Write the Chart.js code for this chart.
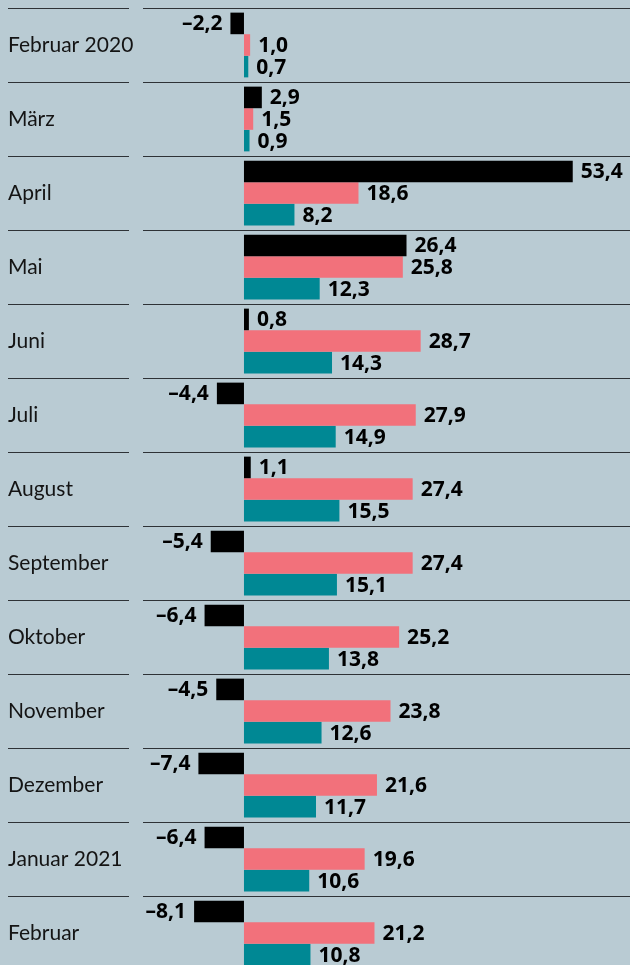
<!DOCTYPE html>
<html>
<head>
<meta charset="utf-8">
<script src="https://cdn.jsdelivr.net/npm/chart.js@4/dist/chart.umd.min.js"></script>
<style>
  html, body { margin:0; padding:0; background:#b9cbd3; overflow:hidden; }
  body { width:630px; height:965px; }
  canvas { display:block; }
</style>
</head>
<body>
<canvas id="chart" width="630" height="975"></canvas>
<script>

const months = [
   "Februar 2020","März","April","Mai","Juni","Juli","August",
   "September","Oktober","November","Dezember","Januar 2021","Februar"
];

const seriesBlack = [-2.2, 2.9, 53.4, 26.4, 0.8, -4.4, 1.1, -5.4, -6.4, -4.5, -7.4, -6.4, -8.1];
const seriesPink  = [1.0, 1.5, 18.6, 25.8, 28.7, 27.9, 27.4, 27.4, 25.2, 23.8, 21.6, 19.6, 21.2];
const seriesTeal  = [0.7, 0.9, 8.2, 12.3, 14.3, 14.9, 15.5, 15.1, 13.8, 12.6, 11.7, 10.6, 10.8];

const colBlack = "#000000";
const colPink  = "#f2717b";
const colTeal  = "#008894";

function fmt(v){
   let s = Math.abs(v).toFixed(1).replace(".", ",");
   return v < 0 ? "–" + s : s;
}

/* trennlinien zwischen den monaten */
const rowLines = {
   id:"rowLines",
   beforeDatasetsDraw(chart){
      let ctx = chart.ctx;
      let y = chart.scales.y;
      let area = chart.chartArea;
      let n = chart.data.labels.length;
      let step = (y.getPixelForValue(n - 1) - y.getPixelForValue(0)) / (n - 1);
      ctx.save();
      ctx.strokeStyle = "#2e3236";
      ctx.lineWidth = 1;
      for(let i = 0; i < n; i++){
         let py = Math.round(y.getPixelForValue(i) - step / 2) + 0.5;
         ctx.beginPath();
         ctx.moveTo(8, py);
         ctx.lineTo(129, py);
         ctx.moveTo(area.left, py);
         ctx.lineTo(area.right, py);
         ctx.stroke();
      }
      ctx.restore();
   }
};

/* werte an den balken */
const valueLabels = {
   id:"valueLabels",
   afterDatasetsDraw(chart){
      let ctx = chart.ctx;
      ctx.save();
      ctx.font = "bold 21px 'Noto Sans'";
      ctx.fillStyle = "#000";
      ctx.textBaseline = "middle";
      chart.data.datasets.forEach(function(ds, di){
         let meta = chart.getDatasetMeta(di);
         meta.data.forEach(function(bar, i){
            let v = ds.data[i];
            if(v < 0){
               ctx.textAlign = "right";
               ctx.fillText(fmt(v), bar.x - 8, bar.y + 1);
            } else {
               ctx.textAlign = "left";
               ctx.fillText(fmt(v), bar.x + 8, bar.y + 1);
            }
         });
      });
      ctx.restore();
   }
};

new Chart(document.getElementById("chart"), {
   type:"bar",
   data:{
      labels:months,
      datasets:[
         { data:seriesBlack, backgroundColor:colBlack },
         { data:seriesPink,  backgroundColor:colPink },
         { data:seriesTeal,  backgroundColor:colTeal }
      ]
   },
   options:{
      indexAxis:"y",
      responsive:false,
      animation:false,
      devicePixelRatio:1,
      layout:{ padding:{ top:8, bottom:5, left:8, right:0 } },
      datasets:{
         bar:{ categoryPercentage:0.875, barPercentage:1, borderWidth:0 }
      },
      plugins:{
         legend:{ display:false },
         tooltip:{ enabled:false }
      },
      scales:{
         x:{
            display:false,
            min:-16.4,
            max:62.7
         },
         y:{
            grid:{ display:false },
            border:{ display:false },
            afterFit:function(scale){
               scale.width = 135;
               scale.paddingTop = 0;
               scale.paddingBottom = 0;
            },
            ticks:{
               crossAlign:"far",
               color:"#141414",
               font:{ family:"Lato", size:21 }
            }
         }
      }
   },
   plugins:[rowLines, valueLabels]
});

</script>
</body>
</html>
